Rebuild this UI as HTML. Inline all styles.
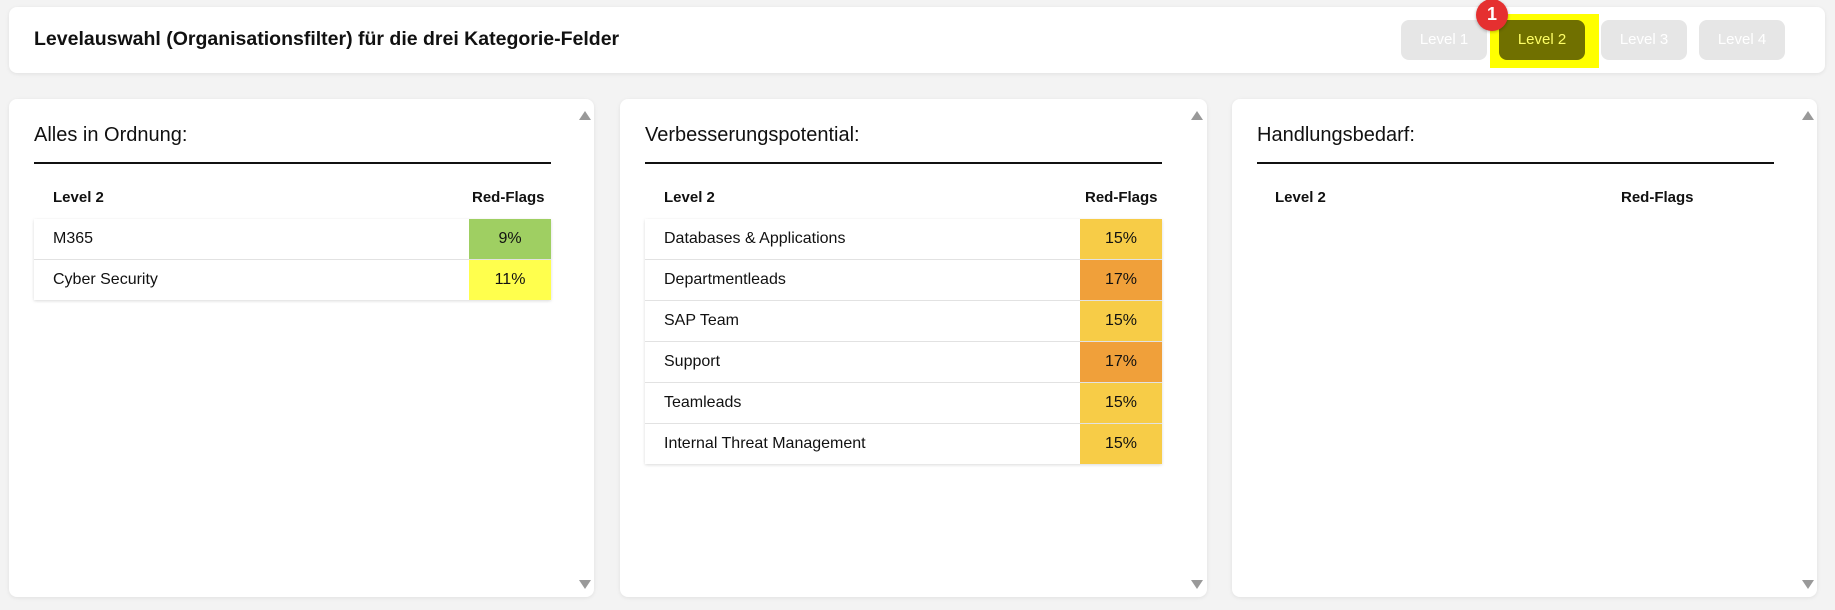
<!DOCTYPE html><html><head><style>
body{margin:0;width:1835px;height:610px;background:#f3f3f3;font-family:"Liberation Sans",sans-serif;position:relative;overflow:hidden}
.card{position:absolute;background:#fff;border-radius:8px;box-shadow:0 1px 4px rgba(0,0,0,.08)}
.t{position:absolute;white-space:nowrap}
.btn{position:absolute;top:20px;height:40px;width:86px;border-radius:8px;background:#e6e6e6;color:#fff;font-size:15px;line-height:40px;text-align:center}
.p .title{position:absolute;left:25px;top:124px;font-size:20px;color:#111}
.line{position:absolute;left:25px;top:162px;width:517px;height:2px;background:#111}
.hd{position:absolute;top:189px;font-size:15px;font-weight:bold;color:#111}
.tbl{position:absolute;left:25px;top:219px;width:517px;box-shadow:0 1px 3px rgba(0,0,0,.15)}
.row{height:40px;border-top:1px solid #e2e2e2;position:relative;font-size:16px;color:#111}
.row span{position:absolute;left:19px;top:11px}
.row b{position:absolute;right:0;top:0;width:82px;height:40px;line-height:40px;text-align:center;font-weight:normal}
.arr{position:absolute;width:0;height:0;border-left:6px solid transparent;border-right:6px solid transparent}
</style></head><body>
<div class="card" style="left:9px;top:7px;width:1816px;height:66px"></div>
<div class="t" style="left:34px;top:28px;font-size:19.5px;font-weight:bold;color:#111">Levelauswahl (Organisationsfilter) für die drei Kategorie-Felder</div>
<div class="btn" style="left:1401px">Level 1</div>
<div style="position:absolute;left:1490px;top:14px;width:109px;height:54px;background:#ffff00"></div>
<div class="btn" style="left:1499px;background:#707000;color:#ffff66">Level 2</div>
<div class="btn" style="left:1601px">Level 3</div>
<div class="btn" style="left:1699px">Level 4</div>
<div style="position:absolute;left:1476px;top:-1px;width:32px;height:32px;border-radius:50%;background:#e53030;color:#fff;font-weight:bold;font-size:18px;text-align:center;line-height:30px;box-shadow:0 1px 3px rgba(0,0,0,.3)">1</div>

<div class="card p" style="left:9px;top:99px;width:585px;height:498px">
<div class="title" style="top:25px">Alles in Ordnung:</div>
<div class="line" style="top:63px"></div>
<div class="hd" style="left:44px;top:90px">Level 2</div>
<div class="hd" style="left:463px;top:90px">Red-Flags</div>
<div class="tbl" style="top:120px">
<div class="row" style="border-top:none"><span>M365</span><b style="background:#9fcf62">9%</b></div>
<div class="row"><span>Cyber Security</span><b style="background:#ffff4d">11%</b></div>
</div>
<div class="arr" style="left:570px;top:12px;border-bottom:9px solid #999"></div>
<div class="arr" style="left:570px;top:481px;border-top:9px solid #999"></div>
</div>

<div class="card p" style="left:620px;top:99px;width:587px;height:498px">
<div class="title" style="top:25px">Verbesserungspotential:</div>
<div class="line" style="top:63px"></div>
<div class="hd" style="left:44px;top:90px">Level 2</div>
<div class="hd" style="left:465px;top:90px">Red-Flags</div>
<div class="tbl" style="top:120px">
<div class="row" style="border-top:none"><span>Databases &amp; Applications</span><b style="background:#f7cc47">15%</b></div>
<div class="row"><span>Departmentleads</span><b style="background:#f0a03a">17%</b></div>
<div class="row"><span>SAP Team</span><b style="background:#f7cc47">15%</b></div>
<div class="row"><span>Support</span><b style="background:#f0a03a">17%</b></div>
<div class="row"><span>Teamleads</span><b style="background:#f7cc47">15%</b></div>
<div class="row"><span>Internal Threat Management</span><b style="background:#f7cc47">15%</b></div>
</div>
<div class="arr" style="left:571px;top:12px;border-bottom:9px solid #999"></div>
<div class="arr" style="left:571px;top:481px;border-top:9px solid #999"></div>
</div>

<div class="card p" style="left:1232px;top:99px;width:585px;height:498px">
<div class="title" style="top:25px">Handlungsbedarf:</div>
<div class="line" style="top:63px"></div>
<div class="hd" style="left:43px;top:90px">Level 2</div>
<div class="hd" style="left:389px;top:90px">Red-Flags</div>
<div class="arr" style="left:570px;top:12px;border-bottom:9px solid #999"></div>
<div class="arr" style="left:570px;top:481px;border-top:9px solid #999"></div>
</div>
</body></html>
